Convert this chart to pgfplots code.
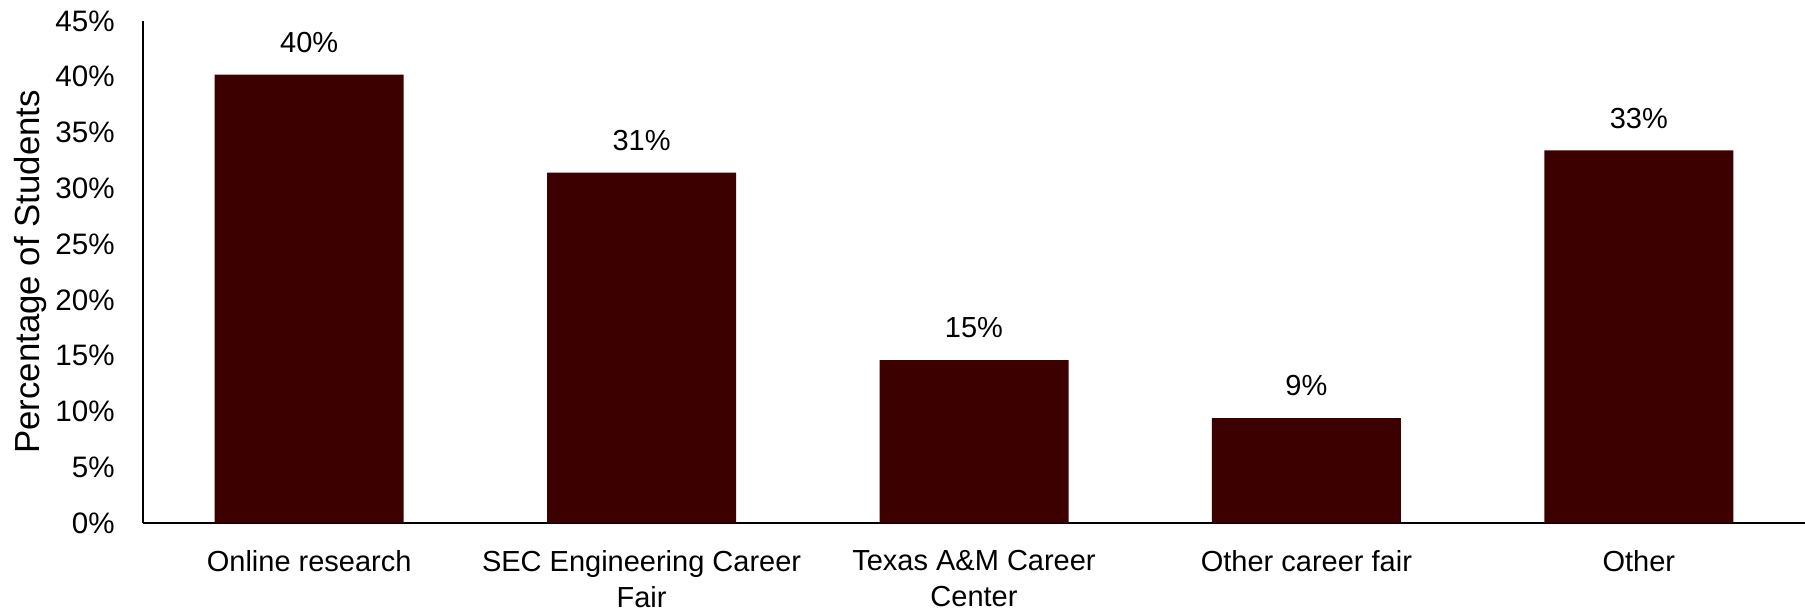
\documentclass[border=0pt]{standalone}
\usepackage{pgfplots}
\pgfplotsset{compat=1.18}
\usepackage{fontspec}
\setmainfont{Liberation Sans}

\definecolor{maroon}{HTML}{3C0000}

\begin{document}
\begin{tikzpicture}
\begin{axis}[
    name=ax,
    scale only axis,
    width=831pt, height=251pt,
    ybar, bar width=94.5pt,
    xmin=-0.5, xmax=4.5,
    ymin=0, ymax=45,
    ytick={0,5,...,45},
    xtick=data,
    xticklabels={Online research, {SEC Engineering Career\\Fair}, {Texas A\&M Career\\Center}, Other career fair, Other},
    xticklabel style={align=center, font=\fontsize{14.5}{18}\selectfont, anchor=north},
    xticklabel shift=10.3pt,
    yticklabel={\pgfmathprintnumber{\tick}\%},
    yticklabel style={font=\fontsize{14.8}{17}\selectfont, inner sep=0pt},
    yticklabel shift=14pt,
    /pgf/number format/assume math mode=true,
    major tick length=0pt,
    axis x line=bottom, axis y line=left,
    axis line style={-, line width=1.1pt, black},
    ylabel={Percentage of Students},
    ylabel style={at={(axis description cs:-0.0675,0.5)}, rotate=0, anchor=center, font=\fontsize{17.4}{20}\selectfont},
    nodes near coords={\pgfmathprintnumber[fixed,precision=0]{\pgfplotspointmeta}\%},
    nodes near coords style={font=\fontsize{14.5}{17}\selectfont, anchor=south, yshift=7.5pt},
    clip=false,
]
\addplot[fill=maroon, draw=none] coordinates {(0,40.2) (1,31.4) (2,14.6) (3,9.4) (4,33.4)};
\end{axis}
\pgfresetboundingbox
\path[use as bounding box] ([xshift=-71.5pt,yshift=-44.5pt]ax.south west) rectangle ([yshift=10.5pt]ax.north east);
\end{tikzpicture}
\end{document}
